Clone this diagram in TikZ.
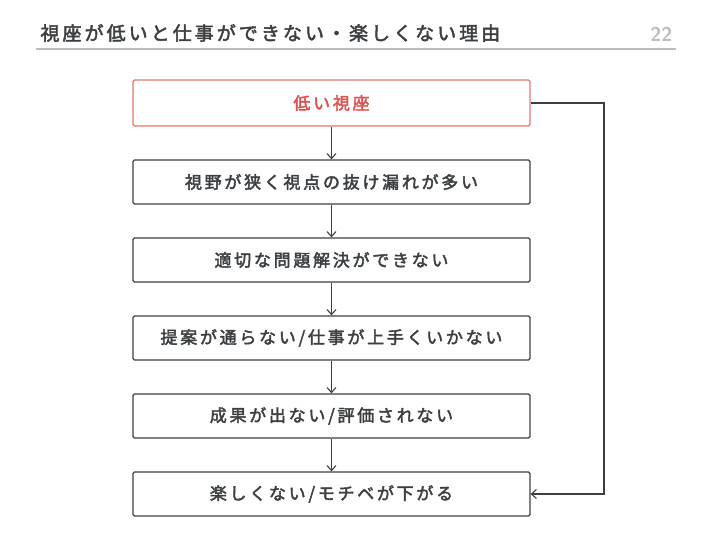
\documentclass[tikz,border=0pt]{standalone}
\usepackage{fontspec}
\newfontfamily\jp[LetterSpace=16,FakeBold=2.5]{Noto Sans CJK JP}
\usetikzlibrary{arrows.meta,positioning}
\definecolor{ink}{HTML}{3C4043}
\definecolor{lowred}{HTML}{D9534F}
\definecolor{rulegray}{HTML}{BDBDBD}
\tikzset{
  stepbox/.style={draw=ink,line width=1.3pt,rounded corners=1.5pt,minimum width=397pt,minimum height=44pt,
    font=\jp\fontsize{17}{17}\selectfont,text=ink},
  flow/.style={draw=ink,line width=1.1pt,-{Straight Barb[length=5pt,width=9pt]}}
}
\begin{document}
\begin{tikzpicture}[x=1pt,y=-1pt]
\useasboundingbox[fill=white] (0,0) rectangle (720,540);

% Title
\node[anchor=west,font=\jp\fontsize{19}{19}\selectfont,text=ink] (title) at (37,33) {視座が低いと仕事ができない・楽しくない理由};
\node[anchor=east,font=\sffamily\bfseries\fontsize{20}{20}\selectfont,text=rulegray] (page) at (676,34) {22};
\draw[rulegray,line width=1.2pt] (36,49) -- (676,49);

% Boxes
\node[stepbox,draw=lowred!80,text=lowred,minimum height=46pt] (low) at (331.5,103) {低い視座};
\node[stepbox] (narrow) at (331.5,182) {視野が狭く視点の抜け漏れが多い};
\node[stepbox] (solve) at (331.5,260) {適切な問題解決ができない};
\node[stepbox] (work) at (331.5,338) {提案が通らない/仕事が上手くいかない};
\node[stepbox] (result) at (331.5,416) {成果が出ない/評価されない};
\node[stepbox] (fun) at (331.5,494) {楽しくない/モチベが下がる};

% Arrows
\draw[flow] (low) -- (narrow);
\draw[flow] (narrow) -- (solve);
\draw[flow] (solve) -- (work);
\draw[flow] (work) -- (result);
\draw[flow] (result) -- (fun);

% Feedback line
\coordinate (corner) at (604,103);
\draw[flow] (low.east) -- (corner) |- (fun.east);
\end{tikzpicture}
\end{document}
